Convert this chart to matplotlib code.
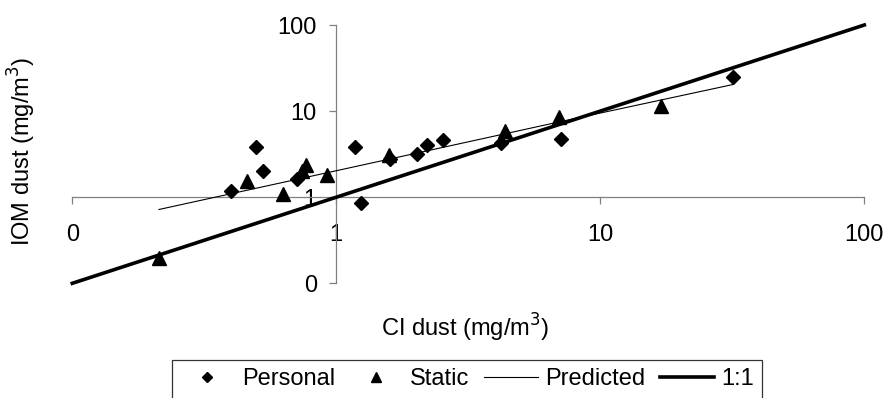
import matplotlib.pyplot as plt
import numpy as np

plt.rcParams['font.family'] = ['Liberation Sans', 'DejaVu Sans']

# values
personal_x = [0.40, 0.495, 0.527, 0.711, 1.18, 1.24, 1.60, 2.03, 2.21, 2.53, 4.19, 7.11, 31.9]
personal_y = [1.17, 3.81, 2.00, 1.64, 3.85, 0.85, 2.79, 3.21, 4.09, 4.56, 4.28, 4.77, 24.8]

static_x = [0.213, 0.46, 0.63, 0.74, 0.765, 0.919, 1.58, 4.35, 6.97, 17.0]
static_y = [0.198, 1.53, 1.09, 2.00, 2.35, 1.79, 3.13, 5.84, 8.59, 11.6]

predicted_x = [0.213, 1.0, 7.0, 31.9]
predicted_y = [0.72, 2.03, 7.5, 20.4]

one_to_one = [0.1, 100]

ticks = [0.1, 1, 10, 100]
tick_labels = ['0', '1', '10', '100']

fig = plt.figure(figsize=(8.87, 3.98), dpi=100)
ax = fig.add_axes([72.3/887, 1 - 283.3/398, 792/887, 258.3/398])

ax.plot(personal_x, personal_y, 'D', color='black', ms=7, label='Personal', clip_on=False, zorder=4)
ax.plot(static_x, static_y, '^', color='black', ms=9.5, label='Static', clip_on=False, zorder=4)
ax.plot(predicted_x, predicted_y, '-', color='black', lw=0.8, label='Predicted', zorder=3)
ax.plot(one_to_one, one_to_one, '-', color='black', lw=2.6, label='1:1', clip_on=False, zorder=3)

ax.set_xscale('log')
ax.set_yscale('log')
ax.set_xlim(0.1, 100)
ax.set_ylim(0.1, 100)

for s in ['top', 'right']:
    ax.spines[s].set_visible(False)
ax.spines['left'].set_position(('data', 1))
ax.spines['bottom'].set_position(('data', 1))
for s in ['left', 'bottom']:
    ax.spines[s].set_color('#808080')
    ax.spines[s].set_linewidth(0.9)

ax.set_xticks(ticks)
ax.set_xticklabels(tick_labels)
ax.set_yticks(ticks)
ax.set_yticklabels(tick_labels)
ax.minorticks_off()
ax.tick_params(axis='both', which='major', direction='out', length=5, width=0.9,
               color='#808080', labelsize=17)
ax.tick_params(axis='x', pad=14)
ax.tick_params(axis='y', pad=9)

fig.text(465/887, 1 - 328/398, r'CI dust (mg/m$^3$)', fontsize=17, ha='center', va='center')
fig.text(22/887, 1 - 151/398, r'IOM dust (mg/m$^3$)', fontsize=17, ha='center', va='center',
         rotation=90)

leg = fig.legend(loc='upper center', bbox_to_anchor=(467/887, 1 - 360/398), ncol=4,
                 fontsize=17, frameon=True, fancybox=False, edgecolor='black',
                 handlelength=2.3, handletextpad=0.3, columnspacing=0.6,
                 markerscale=0.7, borderpad=0.35, borderaxespad=0)
leg.get_frame().set_linewidth(0.9)

plt.savefig('out.png', dpi=100)
